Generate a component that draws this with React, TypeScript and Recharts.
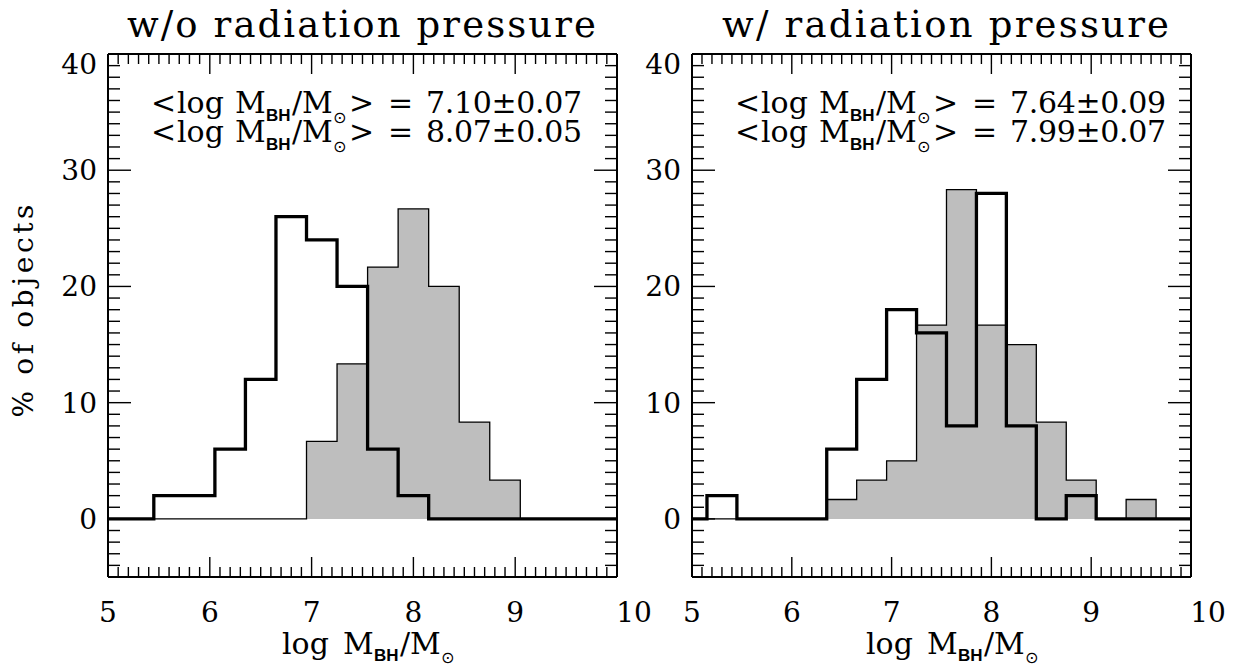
import React from 'react';
import { ComposedChart, Area, Line, XAxis, YAxis } from 'recharts';

// Histogram bin left edges (log M_BH/M_sun), bin width 0.3
const binStarts = [5.15, 5.45, 5.75, 6.05, 6.35, 6.65, 6.95, 7.25, 7.55, 7.85, 8.15, 8.45, 8.75, 9.05, 9.35, 9.65];
const binEnd = 9.95;

// Left panel: w/o radiation pressure (% of objects)
const leftBlack = [0, 2, 2, 6, 12, 26, 24, 20, 6, 2, 0, 0, 0, 0, 0, 0];
const leftGray = [0, 0, 0, 0, 0, 0, 6.67, 13.33, 21.67, 26.67, 20, 8.33, 3.33, 0, 0, 0];

// Right panel: w/ radiation pressure (% of objects)
const rightBlack = [2, 0, 0, 0, 6, 12, 18, 16, 8, 28, 8, 0, 2, 0, 0, 0];
const rightGray = [0, 0, 0, 0, 1.67, 3.33, 5, 16.67, 28.33, 16.67, 15, 8.33, 3.33, 0, 1.67, 0];

const titles = ['w/o radiation pressure', 'w/ radiation pressure'];
const meansLeft = ['7.10±0.07', '8.07±0.05'];
const meansRight = ['7.64±0.09', '7.99±0.07'];

const xTickValues = [5, 5.1, 5.2, 5.3, 5.4, 5.5, 5.6, 5.7, 5.8, 5.9, 6, 6.1, 6.2, 6.3, 6.4, 6.5, 6.6, 6.7, 6.8, 6.9, 7, 7.1, 7.2, 7.3, 7.4, 7.5, 7.6, 7.7, 7.8, 7.9, 8, 8.1, 8.2, 8.3, 8.4, 8.5, 8.6, 8.7, 8.8, 8.9, 9, 9.1, 9.2, 9.3, 9.4, 9.5, 9.6, 9.7, 9.8, 9.9, 10];
const yTickValues = [-5, -4, -3, -2, -1, 0, 1, 2, 3, 4, 5, 6, 7, 8, 9, 10, 11, 12, 13, 14, 15, 16, 17, 18, 19, 20, 21, 22, 23, 24, 25, 26, 27, 28, 29, 30, 31, 32, 33, 34, 35, 36, 37, 38, 39, 40];
const xLabelValues = [5, 6, 7, 8, 9, 10];
const yLabelValues = [0, 10, 20, 30, 40];

const SERIF = "'DejaVu Serif', 'Liberation Serif', serif";
const SANS = "'Liberation Sans', 'DejaVu Sans', sans-serif";
const SYM = "'DejaVu Sans', sans-serif";

function buildData(black: number[], gray: number[]) {
  const pts: { x: number; black: number; gray: number }[] = [{ x: 5, black: 0, gray: 0 }];
  binStarts.forEach((s, i) => pts.push({ x: s, black: black[i], gray: gray[i] }));
  pts.push({ x: binEnd, black: 0, gray: 0 });
  pts.push({ x: 10, black: 0, gray: 0 });
  return pts;
}

const isMajorX = (v: number) => Math.abs(v - Math.round(v)) < 1e-6;
const isMajorY = (v: number) => Math.abs(v % 10) < 1e-6;

const BottomTick = (props: any) => {
  const { x, y, payload } = props;
  const v = payload.value;
  const major = isMajorX(v);
  const showLabel = xLabelValues.includes(v);
  return (
    <g>
      <line x1={x} x2={x} y1={y} y2={y - (major ? 20 : 10)} stroke="#000" strokeWidth={1.4} />
      {showLabel && (
        <text x={x + (v === 10 ? 17 : 0)} y={y + 45} textAnchor="middle" fontFamily={SERIF} fontSize={28} fill="#000">
          {v}
        </text>
      )}
    </g>
  );
};

const TopTick = (props: any) => {
  const { x, y, payload } = props;
  const major = isMajorX(payload.value);
  return <line x1={x} x2={x} y1={y} y2={y + (major ? 20 : 10)} stroke="#000" strokeWidth={1.4} />;
};

const LeftTick = (props: any) => {
  const { x, y, payload } = props;
  const v = payload.value;
  const major = isMajorY(v);
  const showLabel = yLabelValues.includes(v);
  return (
    <g>
      <line x1={x} x2={x + (major ? 23 : 12)} y1={y} y2={y} stroke="#000" strokeWidth={1.4} />
      {showLabel && (
        <text x={x - 11} y={y + (v === 40 ? 10 : 0) + 10} textAnchor="end" fontFamily={SERIF} fontSize={28} fill="#000">
          {v}
        </text>
      )}
    </g>
  );
};

const RightTick = (props: any) => {
  const { x, y, payload } = props;
  const major = isMajorY(payload.value);
  return <line x1={x} x2={x - (major ? 23 : 12)} y1={y} y2={y} stroke="#000" strokeWidth={1.4} />;
};

const axisLine = { stroke: '#000', strokeWidth: 2 };

function Panel({ black, gray, margin }: { black: number[]; gray: number[]; margin: any }) {
  const data = buildData(black, gray);
  return (
    <ComposedChart width={1241} height={668} data={data} margin={margin}>
      <XAxis
        xAxisId="b"
        dataKey="x"
        type="number"
        domain={[5, 10]}
        allowDataOverflow
        ticks={xTickValues}
        interval={0}
        orientation="bottom"
        height={30}
        tickSize={0}
        tickMargin={0}
        tickLine={false}
        axisLine={axisLine}
        tick={<BottomTick />}
      />
      <XAxis
        xAxisId="t"
        dataKey="x"
        type="number"
        domain={[5, 10]}
        allowDataOverflow
        ticks={xTickValues}
        interval={0}
        orientation="top"
        height={10}
        tickSize={0}
        tickMargin={0}
        tickLine={false}
        axisLine={axisLine}
        tick={<TopTick />}
      />
      <YAxis
        yAxisId="l"
        type="number"
        domain={[-5, 40]}
        allowDataOverflow
        ticks={yTickValues}
        interval={0}
        orientation="left"
        width={40}
        tickSize={0}
        tickMargin={0}
        tickLine={false}
        axisLine={axisLine}
        tick={<LeftTick />}
      />
      <YAxis
        yAxisId="r"
        type="number"
        domain={[-5, 40]}
        allowDataOverflow
        ticks={yTickValues}
        interval={0}
        orientation="right"
        width={10}
        tickSize={0}
        tickMargin={0}
        tickLine={false}
        axisLine={axisLine}
        tick={<RightTick />}
      />
      <Area
        xAxisId="b"
        yAxisId="l"
        dataKey="gray"
        type="stepAfter"
        fill="#bebebe"
        fillOpacity={1}
        stroke="#000"
        strokeWidth={1.3}
        baseValue={0}
        isAnimationActive={false}
        dot={false}
        activeDot={false}
      />
      <Line
        xAxisId="b"
        yAxisId="l"
        dataKey="black"
        type="stepAfter"
        stroke="#000"
        strokeWidth={3.3}
        strokeLinejoin="miter"
        dot={false}
        activeDot={false}
        isAnimationActive={false}
      />
    </ComposedChart>
  );
}

function MeanLine({ F, y, value }: { F: number; y: number; value: string }) {
  return (
    <g fill="#000">
      <text y={y} fontFamily={SERIF} fontSize={30}>
        <tspan x={F + 43}>&lt;</tspan>
        <tspan x={F + 69}>log</tspan>
        <tspan x={F + 127}>M</tspan>
      </text>
      <text x={F + 158} y={y + 8} fontFamily={SANS} fontWeight="bold" fontSize={17}>BH</text>
      <text y={y} fontFamily={SERIF} fontSize={30}>
        <tspan x={F + 184}>/</tspan>
        <tspan x={F + 194}>M</tspan>
      </text>
      <text x={F + 225} y={y + 10} fontFamily={SYM} fontSize={16}>⊙</text>
      <text y={y} fontFamily={SERIF} fontSize={30}>
        <tspan x={F + 241}>&gt;</tspan>
        <tspan x={F + 280}>=</tspan>
      </text>
      <text x={F + 318} y={y} fontFamily={SERIF} fontSize={30} textLength={156} lengthAdjust="spacing">
        {value}
      </text>
    </g>
  );
}

function XTitle({ F }: { F: number }) {
  const y = 654;
  return (
    <g fill="#000">
      <text y={y} fontFamily={SERIF} fontSize={30}>
        <tspan x={F + 174}>log</tspan>
        <tspan x={F + 235}>M</tspan>
      </text>
      <text x={F + 266} y={y + 7} fontFamily={SANS} fontWeight="bold" fontSize={17}>BH</text>
      <text x={F + 292} y={y} fontFamily={SERIF} fontSize={30}>
        <tspan x={F + 292}>/</tspan>
        <tspan x={F + 302}>M</tspan>
      </text>
      <text x={F + 333} y={y + 9} fontFamily={SYM} fontSize={16}>⊙</text>
    </g>
  );
}

export default function App() {
  const FL = 108;
  const FR = 692;
  return (
    <div style={{ position: 'absolute', left: 0, top: 0, width: 1241, height: 668, background: '#fff', overflow: 'hidden' }}>
      <div style={{ position: 'absolute', left: 0, top: 0 }}>
        <Panel black={leftBlack} gray={leftGray} margin={{ top: 44, bottom: 61, left: 68, right: 614 }} />
      </div>
      <div style={{ position: 'absolute', left: 0, top: 0 }}>
        <Panel black={rightBlack} gray={rightGray} margin={{ top: 44, bottom: 61, left: 652, right: 40 }} />
      </div>
      <svg width={1241} height={668} style={{ position: 'absolute', left: 0, top: 0, pointerEvents: 'none' }}>
        <text x={127} y={37} fontFamily={SERIF} fontSize={37} textLength={469} lengthAdjust="spacing" fill="#000">
          {titles[0]}
        </text>
        <text x={722} y={37} fontFamily={SERIF} fontSize={37} textLength={447} lengthAdjust="spacing" fill="#000">
          {titles[1]}
        </text>
        <MeanLine F={FL} y={113} value={meansLeft[0]} />
        <MeanLine F={FL} y={142} value={meansLeft[1]} />
        <MeanLine F={FR} y={113} value={meansRight[0]} />
        <MeanLine F={FR} y={142} value={meansRight[1]} />
        <XTitle F={FL} />
        <XTitle F={FR} />
        <text
          x={33}
          y={311}
          transform="rotate(-90 33 311)"
          textAnchor="middle"
          fontFamily={SERIF}
          fontSize={28}
          textLength={213}
          lengthAdjust="spacing"
          fill="#000"
        >
          % of objects
        </text>
      </svg>
    </div>
  );
}
